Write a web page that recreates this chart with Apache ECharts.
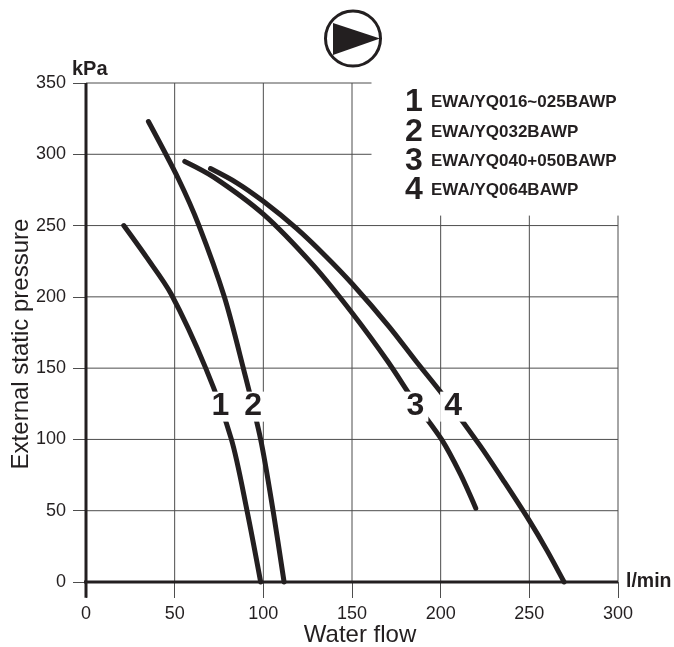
<!DOCTYPE html>
<html>
<head>
<meta charset="utf-8">
<style>html,body{margin:0;padding:0;background:#fff}#c{width:674px;height:647px}</style>
<script src="https://cdn.jsdelivr.net/npm/echarts@6/dist/echarts.min.js"></script>
</head>
<body>
<div id="c"></div>
<script>
var curve1 = [[21.3,250],[34,228],[48,202],[67.5,150],[82,100],[90.8,50],[98.5,0]];
var curve2 = [[35.2,323],[52,283],[63.7,250],[78,200],[88.7,150],[98.5,100],[105.5,50],[111.7,0]];
var curve3 = [[55.7,295],[72,284],[100,258],[128,222.4],[150.2,188.5],[170,155],[186,125],[200.5,100],[211,76],[219.8,51.8]];
var curve4 = [[70.2,290],[85,280],[100,267],[118.7,248],[135.6,228],[150.2,209],[171,179],[186,155],[202,130],[222,96],[236,70],[250,43],[260,22],[269.6,0]];
var curveNumbers = ['1','2','3','4'];
var curveLabelX = [75.8,94.2,185.8,207];
var curveLabelY = [123,123,123,123];
var legendNames = ['EWA/YQ016~025BAWP','EWA/YQ032BAWP','EWA/YQ040+050BAWP','EWA/YQ064BAWP'];
var xTicks = [50,100,150,200,250,300];
var xTickTops = [350,350,350,257,257,257];
var yGridValues = [50,100,150,200,250,300,350];
var yGridEnds = [300,300,300,300,300,161,161];

var ink = '#231f20', gridC = '#4d4d4d';
var curves = [curve1,curve2,curve3,curve4];
var series = [];
xTicks.forEach(function(x,i){
  series.push({type:'line',silent:true,symbol:'none',clip:false,z:1,
    lineStyle:{color:gridC,width:1},data:[[x,0],[x,xTickTops[i]]]});
});
yGridValues.forEach(function(y,i){
  series.push({type:'line',silent:true,symbol:'none',clip:false,z:1,
    lineStyle:{color:gridC,width:1},data:[[0,y],[yGridEnds[i],y]]});
});
series.push({type:'line',silent:true,symbol:'none',clip:false,z:3,lineStyle:{color:ink,width:3},data:[[0,-11],[0,350]]});
series.push({type:'line',silent:true,symbol:'none',clip:false,z:3,lineStyle:{color:ink,width:3},data:[[-7.5,0],[300,0]]});
curves.forEach(function(c){
  series.push({type:'line',silent:true,symbol:'none',smooth:0.3,clip:false,z:4,
    lineStyle:{color:ink,width:5,cap:'round',join:'round'},data:c});
});
series.push({type:'scatter',silent:true,symbolSize:0,z:6,itemStyle:{opacity:1},
  data:curveNumbers.map(function(n,i){return {value:[curveLabelX[i],curveLabelY[i]],name:n};}),
  label:{show:true,position:'inside',formatter:'{b}',color:ink,opacity:1,fontFamily:'Liberation Sans',fontWeight:'bold',
    fontSize:32,backgroundColor:'#fff',padding:[1,4,0,4],lineHeight:29}});

var gfx = [
  {type:'circle',shape:{cx:353,cy:38.5,r:27.5},style:{fill:'#fff',stroke:ink,lineWidth:3}},
  {type:'polygon',shape:{points:[[333,23],[380,38.5],[333,55]]},style:{fill:ink}}
];
var legendY = [102,132,161,190];
curveNumbers.forEach(function(n,i){
  gfx.push({type:'text',style:{x:405,y:legendY[i],text:n,fill:ink,font:'bold 32px "Liberation Sans"',textVerticalAlign:'middle'}});
  gfx.push({type:'text',style:{x:431,y:legendY[i],text:legendNames[i],fill:ink,font:'bold 17px "Liberation Sans"',textVerticalAlign:'middle'}});
});
gfx.push({type:'text',style:{x:72,y:69,text:'kPa',fill:ink,font:'bold 20px "Liberation Sans"',textVerticalAlign:'middle'}});
gfx.push({type:'text',style:{x:626,y:582,text:'l/min',fill:ink,font:'bold 19.5px "Liberation Sans"',textVerticalAlign:'middle'}});
gfx.push({type:'text',style:{x:360,y:635,text:'Water flow',fill:ink,font:'24px "Liberation Sans"',textAlign:'center',textVerticalAlign:'middle'}});
gfx.push({type:'text',rotation:Math.PI/2,x:21,y:344,style:{x:0,y:0,text:'External static pressure',fill:ink,font:'24px "Liberation Sans"',textAlign:'center',textVerticalAlign:'middle'}});

var chart = echarts.init(document.getElementById('c'),null,{renderer:'canvas'});
chart.setOption({
  animation:false,
  backgroundColor:'#fff',
  grid:{left:86,right:56,top:83,bottom:65,containLabel:false},
  xAxis:{type:'value',min:0,max:300,interval:50,
    axisLine:{show:false},splitLine:{show:false},
    axisTick:{show:true,length:16,lineStyle:{color:gridC,width:1}},
    axisLabel:{color:ink,fontFamily:'Liberation Sans',fontSize:18,margin:23,showMinLabel:true,showMaxLabel:true}},
  yAxis:{type:'value',min:0,max:350,interval:50,
    axisLine:{show:false},splitLine:{show:false},
    axisTick:{show:true,length:13,lineStyle:{color:gridC,width:1}},
    axisLabel:{color:ink,fontFamily:'Liberation Sans',fontSize:18,margin:20}},
  series:series,
  graphic:gfx
});
</script>
</body>
</html>
